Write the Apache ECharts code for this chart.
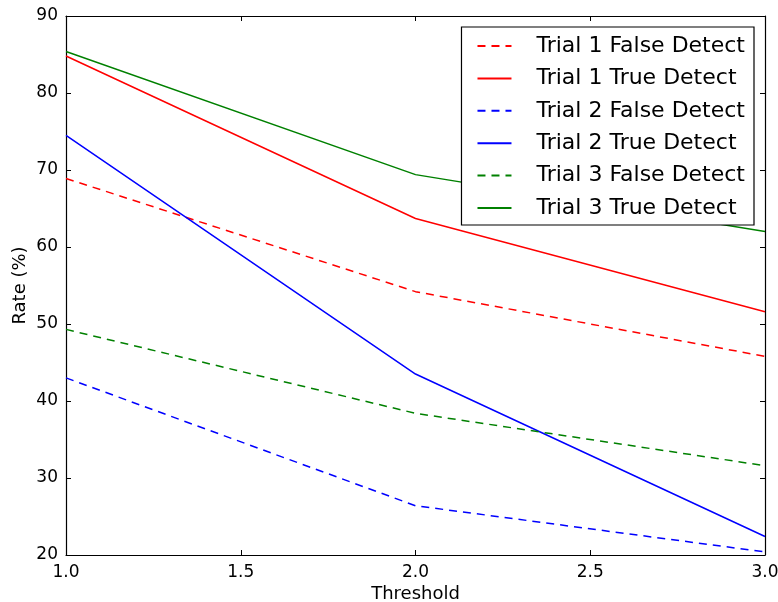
<!DOCTYPE html>
<html>
<head>
<meta charset="utf-8">
<script src="https://cdn.jsdelivr.net/npm/echarts@6/dist/echarts.min.js"></script>
<style>
  html, body { margin: 0; padding: 0; background: #fff; }
  #chart { width: 778px; height: 602px; }
</style>
</head>
<body>
<div id="chart"></div>
<script>
// data
var thresholds = [1.0, 2.0, 3.0];
var trial1False = [68.9, 54.2, 45.8];
var trial1True = [84.8, 63.7, 51.6];
var trial2False = [43.0, 26.4, 20.4];
var trial2True = [74.5, 43.5, 22.4];
var trial3False = [49.3, 38.4, 31.6];
var trial3True = [85.4, 69.4, 62.0];
var seriesNames = [
  'Trial 1 False Detect', 'Trial 1 True Detect',
  'Trial 2 False Detect', 'Trial 2 True Detect',
  'Trial 3 False Detect', 'Trial 3 True Detect'
];

var font = 'DejaVu Sans';

function pairs(ys) {
  return thresholds.map(function (x, i) { return [x, ys[i]]; });
}

function line(name, ys, color, dashed) {
  return {
    name: name,
    type: 'line',
    data: pairs(ys),
    symbol: 'none',
    silent: true,
    lineStyle: { color: color, width: 1.5, type: dashed ? [8, 6] : 'solid' },
    itemStyle: { color: color }
  };
}

var chart = echarts.init(document.getElementById('chart'));

var frame = { show: true, lineStyle: { color: '#000', width: 1.2 } };
var tick = { show: true, inside: true, length: 5, lineStyle: { color: '#000' } };

var option = {
  animation: false,
  grid: { left: 66, right: 13, top: 16, bottom: 47, outerBoundsMode: 'none', containLabel: false },
  legend: {
    right: 24,
    top: 27,
    orient: 'vertical',
    backgroundColor: '#fff',
    borderColor: '#000',
    borderWidth: 1.2,
    borderRadius: 0,
    padding: [8, 9, 6, 15],
    itemWidth: 34,
    itemHeight: 14,
    itemGap: 10.4,
    itemStyle: { opacity: 0 },
    textStyle: { fontFamily: font, fontSize: 22, lineHeight: 22, color: '#000', padding: [0, 0, 0, 20] },
    data: seriesNames
  },
  xAxis: [{
    type: 'value',
    min: 1, max: 3, interval: 0.5,
    name: 'Threshold',
    nameLocation: 'middle',
    nameGap: 30,
    nameMoveOverlap: false,
    nameTextStyle: { fontFamily: font, fontSize: 18, color: '#000' },
    axisLine: frame,
    axisTick: tick,
    splitLine: { show: false },
    axisLabel: {
      fontFamily: font, fontSize: 17, color: '#000', margin: 9,
      formatter: function (v) { return v.toFixed(1); }
    }
  }, {
    type: 'value',
    position: 'top',
    min: 1, max: 3, interval: 0.5,
    axisLine: frame,
    axisTick: tick,
    axisLabel: { show: false },
    splitLine: { show: false }
  }],
  yAxis: [{
    type: 'value',
    min: 20, max: 90, interval: 10,
    name: 'Rate (%)',
    nameLocation: 'middle',
    nameGap: 37,
    nameMoveOverlap: false,
    nameRotate: 90,
    nameTextStyle: { fontFamily: font, fontSize: 18, color: '#000' },
    axisLine: frame,
    axisTick: tick,
    splitLine: { show: false },
    axisLabel: { fontFamily: font, fontSize: 17, color: '#000', margin: 8 }
  }, {
    type: 'value',
    position: 'right',
    min: 20, max: 90, interval: 10,
    axisLine: frame,
    axisTick: tick,
    axisLabel: { show: false },
    splitLine: { show: false }
  }],
  series: [
    line(seriesNames[0], trial1False, '#ff0000', true),
    line(seriesNames[1], trial1True, '#ff0000', false),
    line(seriesNames[2], trial2False, '#0000ff', true),
    line(seriesNames[3], trial2True, '#0000ff', false),
    line(seriesNames[4], trial3False, '#008000', true),
    line(seriesNames[5], trial3True, '#008000', false)
  ]
};

chart.setOption(option);
</script>
</body>
</html>
